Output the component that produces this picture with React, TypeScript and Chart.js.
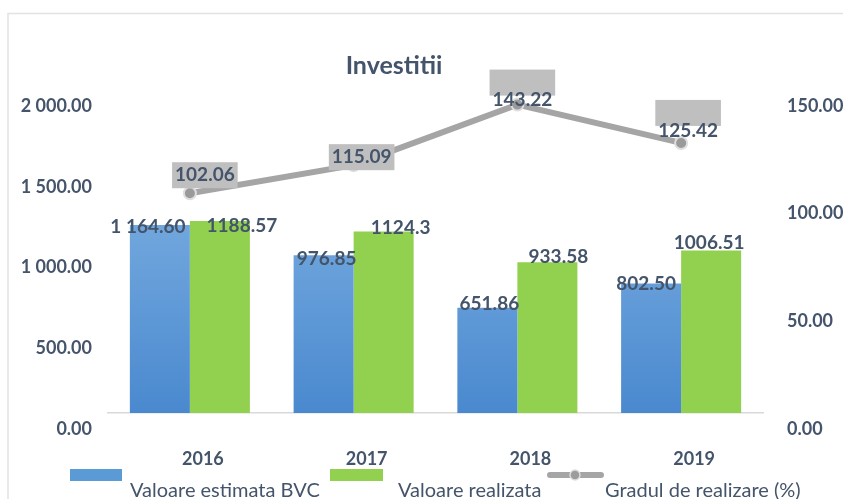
import React, { useEffect, useRef } from 'react';
import { Chart, registerables } from 'chart.js';

Chart.register(...registerables);

// ---------- data ----------
const chartTitle = 'Investitii';
const categories = ['2016', '2017', '2018', '2019'];
const seriesNames = ['Valoare estimata BVC', 'Valoare realizata', 'Gradul de realizare (%)'];
const estimated = [1164.6, 976.85, 651.86, 802.5];
const realized = [1188.57, 1124.3, 933.58, 1006.51];
const rate = [102.06, 115.09, 143.22, 125.42];
const leftAxis = { min: 0, max: 2000, step: 500 };
const rightAxis = { min: 0, max: 150, step: 50 };

// ---------- style ----------
const TEXT = '#44546a';
const FONT = 'Lato, "Open Sans", sans-serif';
const BLUE_TOP = '#78ace0';
const BLUE_BOTTOM = '#4a89cf';
const GREEN = '#92d050';
const GREY = '#a5a5a5';
const LABEL_BOX = '#bfbfbf';
// label offsets (pixels, relative to the mark)
const estShift = [[-12, 2], [3, 4], [2, -4], [-5, 0]];
const realShift = [[22, 5], [17, -4], [11, -5], [-2, -8]];
const rateShift = [[15, -18], [8, -8], [5, -5], [7, -12]];
const rateBoxShift = [0, 0, -17, -18];
const legendLayout = { boxY: 469, boxH: 12, boxW: 52, textY: 497, items: [{ x: 70, tx: 130 }, { x: 330, tx: 398 }, { x: 547, tx: 605 }] };

const spaced = (v: number) => {
  const [i, d] = v.toFixed(2).split('.');
  return i.replace(/\B(?=(\d{3})+(?!\d))/g, ' ') + '.' + d;
};

const decorPlugin = {
  id: 'decor',
  beforeDraw(chart: any) {
    const ctx = chart.ctx;
    ctx.save();
    ctx.strokeStyle = '#e2e2e2';
    ctx.lineWidth = 1.5;
    ctx.strokeRect(8, 13.5, 900, 600);
    ctx.restore();
  },
  afterDatasetsDraw(chart: any) {
    const ctx = chart.ctx;
    ctx.save();
    ctx.textAlign = 'center';
    ctx.textBaseline = 'middle';
    ctx.font = `bold 19px ${FONT}`;
    const m0 = chart.getDatasetMeta(0);
    const m1 = chart.getDatasetMeta(1);
    m0.data.forEach((el: any, i: number) => {
      ctx.fillStyle = TEXT;
      ctx.fillText(spaced(estimated[i]), el.x + estShift[i][0], el.y + estShift[i][1]);
    });
    m1.data.forEach((el: any, i: number) => {
      ctx.fillStyle = TEXT;
      ctx.fillText(String(realized[i]), el.x + realShift[i][0], el.y + realShift[i][1]);
    });
    const m2 = chart.getDatasetMeta(2);
    m2.data.forEach((el: any, i: number) => {
      const cx = el.x + rateShift[i][0];
      const cy = el.y + rateShift[i][1];
      const txt = rate[i].toFixed(2);
      const w = ctx.measureText(txt).width + 6;
      ctx.fillStyle = LABEL_BOX;
      ctx.fillRect(cx - w / 2, cy + rateBoxShift[i] - 13, w, 26);
      ctx.fillStyle = TEXT;
      ctx.fillText(txt, cx, cy);
    });
    ctx.restore();
  },
  afterDraw(chart: any) {
    const ctx = chart.ctx;
    const L = legendLayout;
    ctx.save();
    const ds = chart.data.datasets;
    ctx.font = `20px ${FONT}`;
    ctx.textBaseline = 'alphabetic';
    ctx.textAlign = 'left';
    L.items.forEach((it, i) => {
      if (i < 2) {
        ctx.fillStyle = i === 0 ? '#5b9bd5' : GREEN;
        ctx.fillRect(it.x, L.boxY, L.boxW + (i === 1 ? 1 : 0), L.boxH);
      } else {
        const y = L.boxY + L.boxH / 2;
        ctx.strokeStyle = GREY;
        ctx.lineWidth = 6;
        ctx.lineCap = 'round';
        ctx.beginPath();
        ctx.moveTo(it.x + 3, y);
        ctx.lineTo(it.x + 54, y);
        ctx.stroke();
        ctx.beginPath();
        ctx.arc(it.x + 28, y, 5, 0, Math.PI * 2);
        ctx.fillStyle = '#9c9c9c';
        ctx.fill();
        ctx.lineWidth = 1.5;
        ctx.strokeStyle = '#dddddd';
        ctx.stroke();
      }
      ctx.fillStyle = TEXT;
      ctx.fillText(ds[i].label, it.tx, L.textY);
    });
    ctx.restore();
  },
};

export default function App() {
  const ref = useRef<HTMLCanvasElement | null>(null);
  useEffect(() => {
    if (!ref.current) return;
    const chart = new Chart(ref.current, {
      type: 'bar',
      data: {
        labels: categories,
        datasets: [
          {
            type: 'bar',
            label: seriesNames[0],
            data: estimated,
            yAxisID: 'y',
            order: 1,
            backgroundColor: (c: any) => {
              const area = c.chart.chartArea;
              if (!area) return BLUE_BOTTOM;
              const g = c.chart.ctx.createLinearGradient(0, area.top + 100, 0, area.bottom);
              g.addColorStop(0, BLUE_TOP);
              g.addColorStop(1, BLUE_BOTTOM);
              return g;
            },
            categoryPercentage: 0.733,
            barPercentage: 1,
          },
          {
            type: 'bar',
            label: seriesNames[1],
            data: realized,
            yAxisID: 'y',
            order: 1,
            backgroundColor: GREEN,
            categoryPercentage: 0.733,
            barPercentage: 1,
          },
          {
            type: 'line',
            label: seriesNames[2],
            data: rate,
            yAxisID: 'y1',
            order: 0,
            borderColor: GREY,
            borderWidth: 6,
            tension: 0,
            pointRadius: 6,
            pointBackgroundColor: '#9a9a9a',
            pointBorderColor: '#dedede',
            pointBorderWidth: 2,
          } as any,
        ],
      },
      options: {
        responsive: false,
        animation: false,
        devicePixelRatio: 1,
        layout: { padding: { top: 0, left: -55, right: 0, bottom: 0 } },
        plugins: {
          legend: { display: false },
          tooltip: { enabled: false },
          title: {
            display: true,
            text: chartTitle,
            color: TEXT,
            font: { family: FONT, size: 25, weight: 'bold' },
            padding: { top: 51, bottom: 9 },
          },
        },
        scales: {
          x: {
            grid: { display: false, drawTicks: false },
            border: { display: true, color: '#d9d9d9', width: 1.5 },
            ticks: {
              color: TEXT,
              font: { family: FONT, size: 18, weight: 'bold' },
              padding: 35,
              labelOffset: 13,
            },
            afterFit: (s: any) => { s.height = 86; },
          },
          y: {
            position: 'left',
            min: leftAxis.min,
            max: leftAxis.max,
            grid: { display: false, drawTicks: false },
            border: { display: false },
            ticks: {
              stepSize: leftAxis.step,
              color: TEXT,
              font: { family: FONT, size: 18, weight: 'bold' },
              padding: 16,
              labelOffset: 16,
              callback: (v: any) => spaced(Number(v)),
            },
            afterFit: (s: any) => { s.width = 163; },
          },
          y1: {
            position: 'right',
            min: rightAxis.min,
            max: rightAxis.max,
            grid: { display: false, drawTicks: false },
            border: { display: false },
            ticks: {
              stepSize: rightAxis.step,
              color: TEXT,
              font: { family: FONT, size: 18, weight: 'bold' },
              padding: 24,
              labelOffset: 16,
              callback: (v: any) => Number(v).toFixed(2),
            },
            afterFit: (s: any) => { s.width = 80; },
          },
        },
      } as any,
      plugins: [decorPlugin],
    });
    return () => chart.destroy();
  }, []);
  return (
    <div style={{ position: 'absolute', left: 0, top: 0, width: 843, height: 499, background: '#fff', overflow: 'hidden' }}>
      <canvas ref={ref} width={843} height={499} />
    </div>
  );
}
